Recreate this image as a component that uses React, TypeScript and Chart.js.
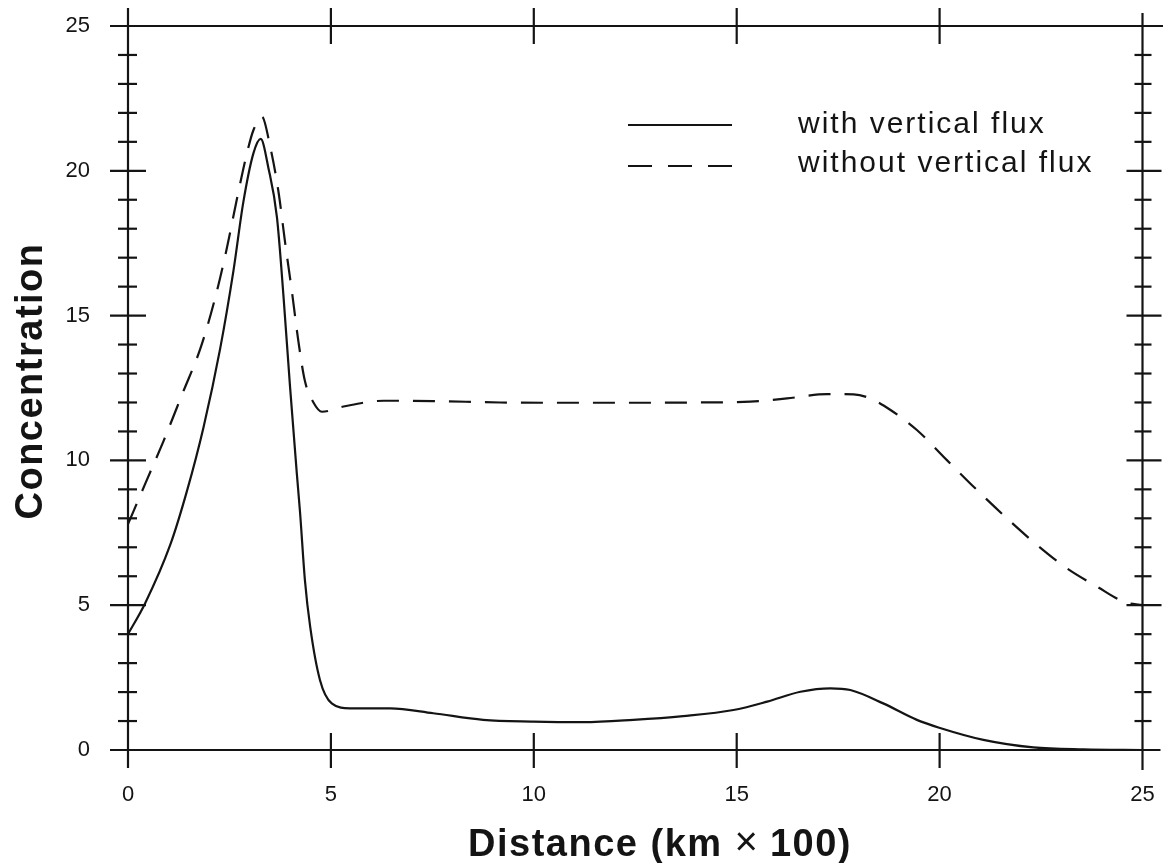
import React, { useEffect, useRef } from "react";
import { Chart, registerables } from "chart.js";

Chart.register(...registerables);

// Distance (km x 100) and concentration for the two model runs
const distanceWith = [0, 0.42, 1.04, 1.45, 1.86, 2.27, 2.6, 2.84, 3.09, 3.27, 3.46, 3.67, 3.83, 3.99, 4.16, 4.24, 4.36, 4.49, 4.73, 5.02, 5.47, 6.46, 7.52, 8.75, 9.99, 11.22, 12.45, 13.68, 14.92, 15.75, 16.57, 17.31, 17.8, 18.61, 19.44, 19.99, 21.08, 22.31, 23.55, 25];
const concentrationWith = [4.0, 5.06, 7.08, 8.93, 11.14, 13.85, 16.56, 18.9, 20.6, 21.1, 20.1, 18.4, 15.7, 12.6, 9.55, 8.2, 5.86, 4.25, 2.42, 1.61, 1.44, 1.44, 1.27, 1.04, 0.98, 0.96, 1.04, 1.17, 1.38, 1.67, 2.01, 2.13, 2.07, 1.61, 1.04, 0.77, 0.35, 0.09, 0.02, 0];

const distanceWithout = [0, 0.42, 0.87, 1.36, 1.78, 2.14, 2.43, 2.68, 2.93, 3.09, 3.3, 3.5, 3.71, 3.87, 4.04, 4.2, 4.36, 4.57, 4.78, 5.31, 6.3, 7.52, 9.17, 10.8, 12.45, 14.1, 15.33, 16.24, 17.23, 17.88, 18.29, 18.79, 19.44, 20.18, 20.92, 21.66, 22.4, 23.14, 23.88, 24.54, 25];
const concentrationWithout = [7.8, 9.18, 10.65, 12.37, 13.85, 15.57, 17.29, 19.0, 20.6, 21.4, 21.87, 20.86, 19.26, 17.54, 15.82, 14.1, 12.74, 12.0, 11.68, 11.86, 12.06, 12.05, 12.0, 11.99, 11.99, 12.0, 12.03, 12.14, 12.29, 12.28, 12.14, 11.74, 11.05, 10.01, 8.98, 8.0, 7.08, 6.27, 5.64, 5.12, 5.0];

const seriesLabels = ["with vertical flux", "without vertical flux"];
const xTickLabels = [0, 5, 10, 15, 20, 25];
const yTickLabels = [0, 5, 10, 15, 20, 25];
const yMinorTicks = [1, 2, 3, 4, 6, 7, 8, 9, 11, 12, 13, 14, 16, 17, 18, 19, 21, 22, 23, 24];
const xAxisTitleParts = ["Distance (km", "\u00D7", "100)"];
const yAxisTitle = "Concentration";

const INK = "#141414";
const FONT = "'Liberation Sans', Arial, Helvetica, sans-serif";

const framePlugin = {
  id: "frame",
  afterDatasetsDraw(chart: any) {
    const { ctx, scales } = chart;
    const xs = scales.x;
    const ys = scales.y;
    const X = (v: number) => xs.getPixelForValue(v);
    const Y = (v: number) => ys.getPixelForValue(v);
    const x0 = X(xTickLabels[0]);
    const x1 = X(xTickLabels[xTickLabels.length - 1]);
    const y0 = Y(yTickLabels[0]);
    const y1 = Y(yTickLabels[yTickLabels.length - 1]);
    ctx.save();
    ctx.strokeStyle = INK;
    ctx.lineWidth = 2.2;
    ctx.lineCap = "butt";
    const seg = (ax: number, ay: number, bx: number, by: number) => {
      ctx.beginPath();
      ctx.moveTo(ax, ay);
      ctx.lineTo(bx, by);
      ctx.stroke();
    };
    // axes
    seg(x0, y1 - 18, x0, y0 + 18);
    seg(x1, y1 - 13, x1, y0 + 20);
    seg(x0 - 18, y0, x1 + 18, y0);
    seg(x0 - 18, y1, chart.width, y1);
    // x major ticks (top and bottom)
    xTickLabels.slice(1, -1).forEach((v) => {
      const px = X(v);
      seg(px, y0 - 17, px, y0 + 18);
      seg(px, y1 - 18, px, y1 + 18);
    });
    // y major ticks
    yTickLabels.slice(1, -1).forEach((v) => {
      const py = Y(v);
      seg(x0 - 18, py, x0 + 18, py);
      seg(x1 - 16, py, x1 + 19, py);
    });
    // y minor ticks
    yMinorTicks.forEach((v) => {
      const py = Y(v);
      seg(x0 - 10, py, x0 + 9, py);
      seg(x1 - 8, py, x1 + 9, py);
    });

    // legend
    const lx0 = 628;
    const lx1 = 732;
    ctx.lineWidth = 2.2;
    ctx.setLineDash([]);
    seg(lx0, 125, lx1, 125);
    ctx.setLineDash([24, 16]);
    seg(lx0, 166, lx1, 166);
    ctx.setLineDash([]);
    ctx.fillStyle = INK;
    ctx.font = `30px ${FONT}`;
    (ctx as any).letterSpacing = "2px";
    ctx.textAlign = "left";
    ctx.textBaseline = "alphabetic";
    ctx.fillText(seriesLabels[0], 798, 133);
    ctx.fillText(seriesLabels[1], 798, 172);

    // x axis title, laid out piece by piece (thin multiplication sign)
    const boldFont = `bold 38px ${FONT}`;
    const signFont = `40px ${FONT}`;
    ctx.textAlign = "left";
    ctx.font = boldFont;
    (ctx as any).letterSpacing = "1.5px";
    const w0 = ctx.measureText(xAxisTitleParts[0]).width;
    const w2 = ctx.measureText(xAxisTitleParts[2]).width;
    ctx.font = signFont;
    (ctx as any).letterSpacing = "0px";
    const w1 = ctx.measureText(xAxisTitleParts[1]).width;
    const gap = 12;
    const total = w0 + gap + w1 + gap + w2;
    let tx = 660 - total / 2;
    ctx.font = boldFont;
    (ctx as any).letterSpacing = "1.5px";
    ctx.fillText(xAxisTitleParts[0], tx, 856);
    tx += w0 + gap;
    ctx.font = signFont;
    (ctx as any).letterSpacing = "0px";
    ctx.fillText(xAxisTitleParts[1], tx, 855);
    tx += w1 + gap;
    ctx.font = boldFont;
    (ctx as any).letterSpacing = "1.5px";
    ctx.fillText(xAxisTitleParts[2], tx, 856);

    // y axis title
    ctx.textAlign = "center";
    ctx.save();
    ctx.translate(42, 381);
    ctx.rotate(-Math.PI / 2);
    ctx.fillText(yAxisTitle, 0, 0);
    ctx.restore();
    (ctx as any).letterSpacing = "0px";
    ctx.restore();
  },
};

export default function App() {
  const canvasRef = useRef<HTMLCanvasElement | null>(null);

  useEffect(() => {
    document.body.style.margin = "0";
    document.body.style.background = "#ffffff";
    const canvas = canvasRef.current;
    if (!canvas) return;
    const chart = new Chart(canvas, {
      type: "line",
      data: {
        datasets: [
          {
            label: seriesLabels[0],
            data: distanceWith.map((d, i) => ({ x: d, y: concentrationWith[i] })),
            borderColor: INK,
            borderWidth: 2.2,
            pointRadius: 0,
            fill: false,
            cubicInterpolationMode: "monotone",
          },
          {
            label: seriesLabels[1],
            data: distanceWithout.map((d, i) => ({ x: d, y: concentrationWithout[i] })),
            borderColor: INK,
            borderWidth: 2.2,
            borderDash: [22, 14],
            pointRadius: 0,
            fill: false,
            cubicInterpolationMode: "monotone",
          },
        ],
      },
      options: {
        animation: false,
        responsive: true,
        maintainAspectRatio: false,
        layout: { padding: { left: 0, top: 26, right: 20.5, bottom: 0 } },
        plugins: {
          legend: { display: false },
          tooltip: { enabled: false },
          title: { display: false },
        },
        scales: {
          x: {
            type: "linear",
            position: "bottom",
            min: 0,
            max: 25,
            afterBuildTicks: (scale: any) => {
              scale.ticks = xTickLabels.map((v) => ({ value: v }));
            },
            afterFit: (scale: any) => {
              scale.height = 113;
              scale.paddingLeft = 0;
              scale.paddingRight = 0;
              scale.paddingTop = 0;
              scale.paddingBottom = 0;
            },
            ticks: {
              color: INK,
              font: { family: FONT, size: 22 },
              padding: 32,
              maxRotation: 0,
              autoSkip: false,
            },
            grid: { display: false, drawTicks: false },
            border: { display: false },
          },
          y: {
            type: "linear",
            position: "left",
            min: 0,
            max: 25,
            afterBuildTicks: (scale: any) => {
              scale.ticks = yTickLabels.map((v) => ({ value: v }));
            },
            afterFit: (scale: any) => {
              scale.width = 128;
              scale.paddingLeft = 0;
              scale.paddingRight = 0;
              scale.paddingTop = 0;
              scale.paddingBottom = 0;
            },
            ticks: {
              color: INK,
              font: { family: FONT, size: 22 },
              padding: 38,
              autoSkip: false,
            },
            grid: { display: false, drawTicks: false },
            border: { display: false },
          },
        },
      },
      plugins: [framePlugin],
    });
    return () => chart.destroy();
  }, []);

  return (
    <div style={{ width: "1163px", height: "863px", position: "relative", background: "#fff" }}>
      <canvas ref={canvasRef} />
    </div>
  );
}
